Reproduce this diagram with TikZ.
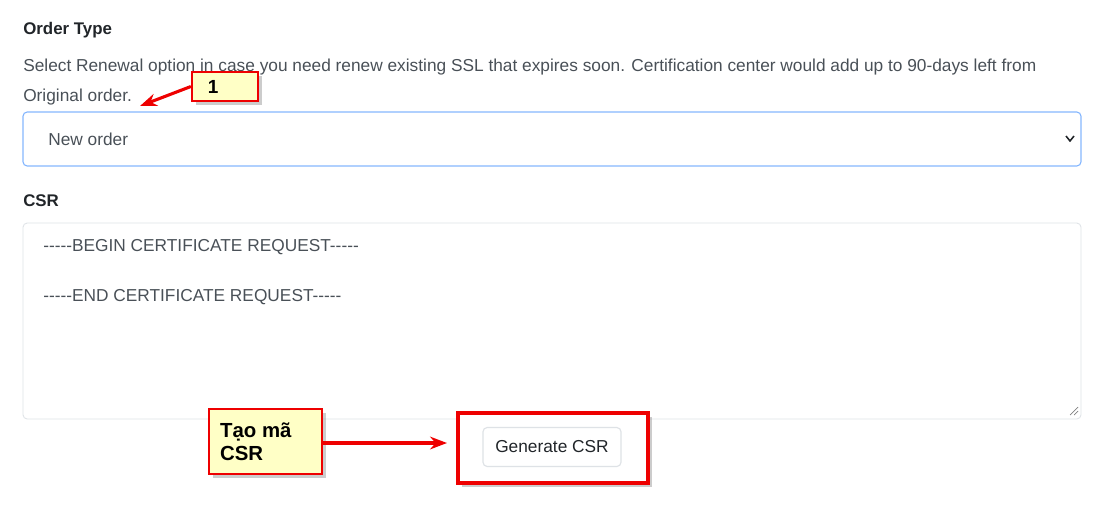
\documentclass[tikz,border=0pt]{standalone}
\usepackage{fontspec}
\setmainfont{Liberation Sans}
\usetikzlibrary{shadows,arrows.meta}
\definecolor{txt}{HTML}{212529}
\definecolor{sub}{HTML}{495057}
\definecolor{selbd}{HTML}{86B7FE}
\definecolor{grbd}{HTML}{DEE2E6}
\definecolor{note}{HTML}{FFFFC6}
\definecolor{hilite}{HTML}{EE0000}
\newcommand{\fivedash}{{-}{-}{-}{-}{-}}
\tikzset{
	fieldlabel/.style={anchor=west, inner sep=0pt, text=txt, font=\fontsize{12}{14}\selectfont\bfseries},
	plain/.style={anchor=west, inner sep=0pt, text=sub, font=\fontsize{12.3}{14}\selectfont},
	callout/.style={draw=hilite, line width=1.6pt, fill=note, drop shadow={opacity=0.4}, inner sep=0pt},
	pointer/.style={draw=hilite, line width=2.2pt, -{Stealth[length=12pt,width=9pt]}},
}
\begin{document}
\begin{tikzpicture}[x=0.025cm, y=-0.025cm]
\useasboundingbox (0,0) rectangle (1103,515);

\node[fieldlabel] (otype) at (23,30) {Order Type};
\node[plain] (desc1) at (23,67) {Select Renewal option in case you need renew existing SSL that expires soon. Certification center would add up to 90-days left from};
\node[plain] (desc2) at (23,97) {Original order.};

% select box
\draw[selbd, line width=0.8pt, rounded corners=3pt] (23,112) rectangle (1081,166);
\node[plain] (neworder) at (48,139) {New order};
\draw[txt, line width=1.1pt] (1066,136) -- (1070,141) -- (1074,136);

\node[fieldlabel] (csr) at (23,201) {CSR};

% textarea
\draw[grbd, line width=0.6pt, rounded corners=3pt] (23,223) rectangle (1081,419);
\node[plain] (begin) at (43,247) {\fivedash BEGIN CERTIFICATE REQUEST\fivedash};
\node[plain] (end) at (43,297) {\fivedash END CERTIFICATE REQUEST\fivedash};
\draw[gray, line width=0.5pt] (1070,415) -- (1078,407) (1074,415) -- (1078,411);

% button
\draw[hilite, fill=white, line width=2.2pt, drop shadow={opacity=0.4}] (458,413) rectangle (648,483);
\node[draw=grbd, line width=0.8pt, rounded corners=3pt, minimum width=138*0.025cm, minimum height=39*0.025cm,
	text=txt, font=\fontsize{12.3}{14}\selectfont] (gen) at (552,447) {Generate CSR};

% callouts
\node[callout, minimum width=66*0.025cm, minimum height=29*0.025cm] (one) at (225,86.5) {};
\node[anchor=west, font=\fontsize{13.5}{15}\selectfont\bfseries] at (one.west) {\hspace{0.3cm}1};
\coordinate (onetip) at (140,106);
\draw[pointer] (one.west) -- (onetip);

\node[callout, minimum width=113*0.025cm, minimum height=65*0.025cm] (tao) at (265.5,441.5) {};
\node[anchor=west, align=left, inner sep=0pt, font=\fontsize{14.5}{16}\selectfont\bfseries] at ([xshift=12*0.025cm]tao.west) {Tạo mã\\CSR};
\coordinate (taotip) at (447,443);
\draw[pointer] (tao.east |- taotip) -- (taotip);
\end{tikzpicture}
\end{document}
